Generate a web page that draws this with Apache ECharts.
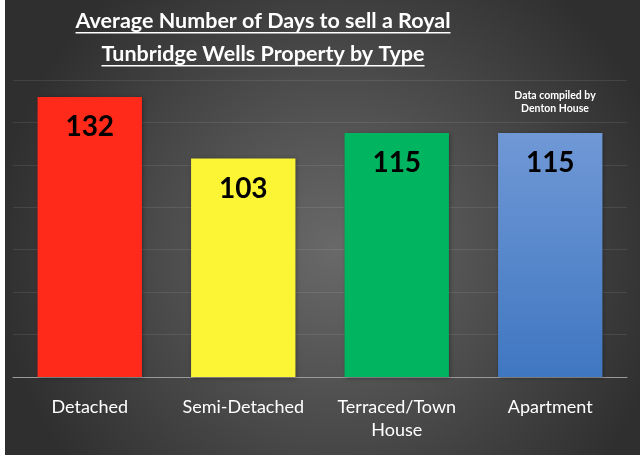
<!DOCTYPE html>
<html lang="en">
<head>
  <meta charset="utf-8">
  <style>
    body {
      margin: 0;
      background: #fff;
    }
    #chart {
      position: absolute;
      left: 5px;
      top: 0;
      width: 635px;
      height: 455px;
    }
  </style>
</head>
<body>
  <div id="chart"></div>
  <script src="https://cdn.jsdelivr.net/npm/echarts@6/dist/echarts.min.js"></script>
  <script>
    // categories and values
    var categories = ['Detached', 'Semi-Detached', 'Terraced/Town\nHouse', 'Apartment'];
    var days = [132, 103, 115, 115];
    var titleLines = ['Average Number of Days to sell a Royal', 'Tunbridge Wells Property by Type'];
    var noteText = 'Data compiled by\nDenton House';

    var barColors = [
      '#ff2a1a',
      '#fcf535',
      '#00b460',
      new echarts.graphic.LinearGradient(0, 0, 0, 1, [
        { offset: 0, color: '#7098d6' },
        { offset: 1, color: '#3f77c1' }
      ])
    ];

    var titleFont = 'bold 21.5px Lato';
    var measure = document.createElement('canvas').getContext('2d');
    measure.font = titleFont;

    // title lines with an underline below each
    var titleX = 258;
    var graphics = [];
    titleLines.forEach(function (line, i) {
      var y = 21 + i * 33;
      var w = measure.measureText(line).width;
      graphics.push({
        type: 'text',
        x: titleX,
        y: y,
        style: {
          text: line,
          fill: '#fff',
          font: titleFont,
          textAlign: 'center',
          textVerticalAlign: 'middle'
        }
      });
      graphics.push({
        type: 'rect',
        shape: { x: titleX - w / 2, y: y + 11, width: w, height: 1.6 },
        style: { fill: '#fff' }
      });
    });
    graphics.push({
      type: 'text',
      x: 550,
      y: 89,
      style: {
        text: noteText,
        fill: '#fff',
        font: 'bold 10.5px Lato',
        textAlign: 'center',
        lineHeight: 13
      }
    });

    var myChart = echarts.init(document.getElementById('chart'), null, { renderer: 'canvas' });
    var option = {
      animation: false,
      backgroundColor: {
        type: 'radial',
        x: 0.52,
        y: 0.55,
        r: 0.75,
        colorStops: [
          { offset: 0, color: '#696969' },
          { offset: 1, color: '#2f2f2f' }
        ]
      },
      graphic: graphics,
      grid: {
        left: 8,
        right: 13,
        top: 80,
        bottom: 78
      },
      xAxis: {
        type: 'category',
        data: categories,
        axisLine: { lineStyle: { color: '#9a9a9a', width: 1 } },
        axisTick: { show: false },
        axisLabel: {
          color: '#fff',
          fontFamily: 'Lato',
          fontSize: 18,
          lineHeight: 23,
          margin: 19,
          interval: 0
        }
      },
      yAxis: {
        type: 'value',
        min: 0,
        max: 140,
        interval: 20,
        axisLine: { show: false },
        axisTick: { show: false },
        axisLabel: { show: false },
        splitLine: { lineStyle: { color: 'rgba(255,255,255,0.09)', width: 1 } }
      },
      series: [
        {
          type: 'bar',
          barWidth: '68%',
          data: days.map(function (v, i) {
            return { value: v, itemStyle: { color: barColors[i] } };
          }),
          itemStyle: {
            shadowBlur: 4,
            shadowColor: 'rgba(0,0,0,0.35)',
            shadowOffsetX: 1,
            shadowOffsetY: 1
          },
          label: {
            show: true,
            position: 'insideTop',
            distance: 16,
            color: '#000',
            fontFamily: 'Lato',
            fontWeight: 'bold',
            fontSize: 28
          }
        }
      ]
    };
    myChart.setOption(option);
    window.addEventListener('resize', myChart.resize);
  </script>
</body>
</html>
